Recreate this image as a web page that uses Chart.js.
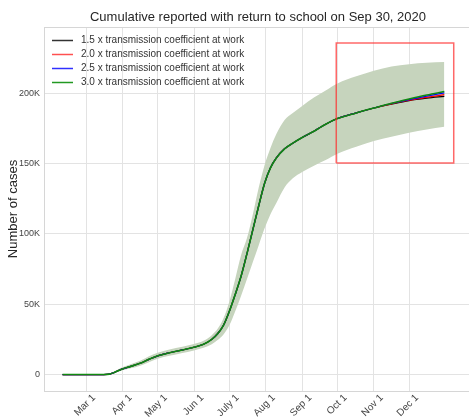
<!DOCTYPE html>
<html>
<head>
<meta charset="utf-8">
<script src="https://cdn.jsdelivr.net/npm/chart.js@4/dist/chart.umd.min.js"></script>
<style>
  html, body { margin: 0; padding: 0; background: #ffffff; }
  #wrap { width: 469px; height: 417px; position: relative; }
</style>
</head>
<body>
<div id="wrap"><canvas id="c" width="469" height="417"></canvas></div>
<script>
// ---- DATA (day of year 2020, Jan 1 = 0) ----
const titleText = "Cumulative reported with return to school on Sep 30, 2020";
const yAxisTitle = "Number of cases";
const seriesLabels = [
  "1.5 x transmission coefficient at work",
  "2.0 x transmission coefficient at work",
  "2.5 x transmission coefficient at work",
  "3.0 x transmission coefficient at work"
];
const monthTickDays = [60, 91, 121, 152, 182, 213, 244, 274, 305, 335];
const monthTickLabels = ["Mar 1", "Apr 1", "May 1", "Jun 1", "July 1", "Aug 1", "Sep 1", "Oct 1", "Nov 1", "Dec 1"];
const yTickValues = [0, 50000, 100000, 150000, 200000];
const yTickLabels = ["0", "50K", "100K", "150K", "200K"];

const days = [40, 60, 75, 80, 84, 91, 98, 106, 114, 121, 131, 142, 151, 160, 167, 172, 177, 182, 187, 192,
              197, 202, 207, 212, 217, 222, 229, 236, 244, 254, 264, 274, 290, 305, 320, 335, 350, 365];

// shared part of the four median curves (up to day 290)
const commonCases = [0, 0, 0, 300, 1500, 4000, 5800, 8000, 11000, 13300, 15500, 17500, 19200, 21500, 25000, 29000,
                     35000, 45000, 57000, 70000, 86000, 103000, 120000, 136000, 147000, 154000, 160500, 164500,
                     168500, 173000, 178000, 182000, 186000];
// tails for days 305..365
const tail15 = [189500, 192300, 194800, 196500, 197800];
const tail20 = [189500, 192500, 195100, 197100, 199000];
const tail25 = [189500, 192700, 195500, 198000, 200300];
const tail30 = [189500, 192900, 195900, 198700, 201200];

const bandUpper = [0, 0, 0, 500, 2200, 5200, 7300, 9800, 13200, 15500, 17800, 19800, 21500, 24000, 28000, 32500,
                   40000, 52000, 68000, 85000, 97000, 114000, 133000, 149000, 161000, 171000, 181000, 186000,
                   191000, 197000, 202000, 207000, 212000, 216000, 219000, 220700, 221700, 222200];
const bandLower = [0, 0, 0, 100, 900, 3000, 4400, 6300, 9000, 11200, 13300, 15300, 17000, 19000, 21500, 24500,
                   28500, 35000, 45000, 56000, 68000, 80000, 92000, 104000, 114000, 122000, 133000, 139500,
                   144000, 148500, 152500, 157000, 162000, 166000, 169000, 172000, 174300, 176200];

// highlighted region (red box)
const boxDays = [273, 373];
const boxCases = [150400, 235800];

// ---- build ----
const seriesValues = [
  commonCases.concat(tail15),
  commonCases.concat(tail20),
  commonCases.concat(tail25),
  commonCases.concat(tail30)
];
const seriesColors = ["#000000", "#ff0000", "#0000ff", "#108a10"];
const seriesWidths = [1.2, 1.2, 1.2, 1.6];
const legendColors = ["#333333", "#ff5050", "#3030ff", "#229922"];

function pts(vals) { return days.map((d, i) => ({ x: d, y: vals[i] })); }

const datasets = [
  { label: "_lower", data: pts(bandLower), borderWidth: 0, pointRadius: 0, fill: false, order: 20,
    cubicInterpolationMode: "monotone", borderColor: "rgba(0,0,0,0)" },
  { label: "_upper", data: pts(bandUpper), borderWidth: 0, pointRadius: 0, fill: "-1", order: 19,
    backgroundColor: "#c6d4bd", cubicInterpolationMode: "monotone", borderColor: "rgba(0,0,0,0)" }
];
seriesValues.forEach((vals, i) => {
  datasets.push({ label: seriesLabels[i], data: pts(vals), borderColor: seriesColors[i], borderWidth: seriesWidths[i],
                  order: 10 - i, pointRadius: 0, fill: false, cubicInterpolationMode: "monotone" });
});
datasets.push({
  label: "_box",
  order: 0,
  data: [
    { x: boxDays[0], y: boxCases[0] }, { x: boxDays[0], y: boxCases[1] },
    { x: boxDays[1], y: boxCases[1] }, { x: boxDays[1], y: boxCases[0] },
    { x: boxDays[0], y: boxCases[0] }
  ],
  borderColor: "rgba(255,40,40,0.7)", borderWidth: 1.5, pointRadius: 0, fill: false, tension: 0
});

const FONT = "'Liberation Sans', Arial, sans-serif";

const framePlugin = {
  id: "frame",
  beforeDatasetsDraw(chart) {
    const a = chart.chartArea, ctx = chart.ctx;
    ctx.save();
    ctx.strokeStyle = "#d6d6d6";
    ctx.lineWidth = 1;
    ctx.strokeRect(a.left + 0.5, a.top + 0.5, a.right - a.left + 5, a.bottom - a.top);
    ctx.restore();
  }
};

const titlePlugin = {
  id: "customTitle",
  afterDraw(chart) {
    const ctx = chart.ctx;
    ctx.save();
    ctx.font = "13px " + FONT;
    ctx.fillStyle = "#262626";
    ctx.textAlign = "center";
    ctx.textBaseline = "middle";
    ctx.fillText(titleText, 258, 17);
    ctx.restore();
  }
};

const legendPlugin = {
  id: "innerLegend",
  afterDatasetsDraw(chart) {
    const a = chart.chartArea, ctx = chart.ctx;
    ctx.save();
    ctx.font = "10px " + FONT;
    ctx.textBaseline = "middle";
    ctx.textAlign = "left";
    seriesLabels.forEach((lab, i) => {
      const y = a.top + 13.5 + i * 14;
      ctx.strokeStyle = legendColors[i];
      ctx.lineWidth = 1.5;
      ctx.beginPath();
      ctx.moveTo(a.left + 8, y);
      ctx.lineTo(a.left + 29, y);
      ctx.stroke();
      ctx.fillStyle = "#333333";
      ctx.fillText(lab, a.left + 37, y);
    });
    ctx.restore();
  }
};

new Chart(document.getElementById("c"), {
  type: "line",
  data: { datasets },
  options: {
    responsive: false,
    animation: false,
    devicePixelRatio: 1,
    layout: { padding: { left: 0, right: 0, top: 27, bottom: 0 } },
    plugins: {
      legend: { display: false },
      tooltip: { enabled: false },
      title: { display: false }
    },
    scales: {
      x: {
        type: "linear", min: 24.2, max: 386,
        afterFit(s) { s.height = 26; },
        afterBuildTicks(s) { s.ticks = monthTickDays.map(v => ({ value: v })); },
        grid: { color: "#e3e3e3", lineWidth: 1, drawTicks: false },
        border: { display: false },
        ticks: {
          autoSkip: false, maxRotation: 45, minRotation: 45, padding: 1, labelOffset: 8,
          color: "#444444", font: { family: FONT, size: 10 },
          callback(v) { const i = monthTickDays.indexOf(v); return i >= 0 ? monthTickLabels[i] : ""; }
        }
      },
      y: {
        type: "linear", min: -11700, max: 247100,
        afterFit(s) { s.width = 44; },
        afterBuildTicks(s) { s.ticks = yTickValues.map(v => ({ value: v })); },
        grid: { color: "#e3e3e3", lineWidth: 1, drawTicks: false },
        border: { display: false },
        title: { display: true, text: yAxisTitle, color: "#262626",
                 font: { family: FONT, size: 13 }, padding: { top: 6, bottom: 0 } },
        ticks: {
          padding: 4, color: "#444444", font: { family: FONT, size: 9 },
          callback(v) { const i = yTickValues.indexOf(v); return i >= 0 ? yTickLabels[i] : ""; }
        }
      }
    }
  },
  plugins: [framePlugin, legendPlugin, titlePlugin]
});
</script>
</body>
</html>
